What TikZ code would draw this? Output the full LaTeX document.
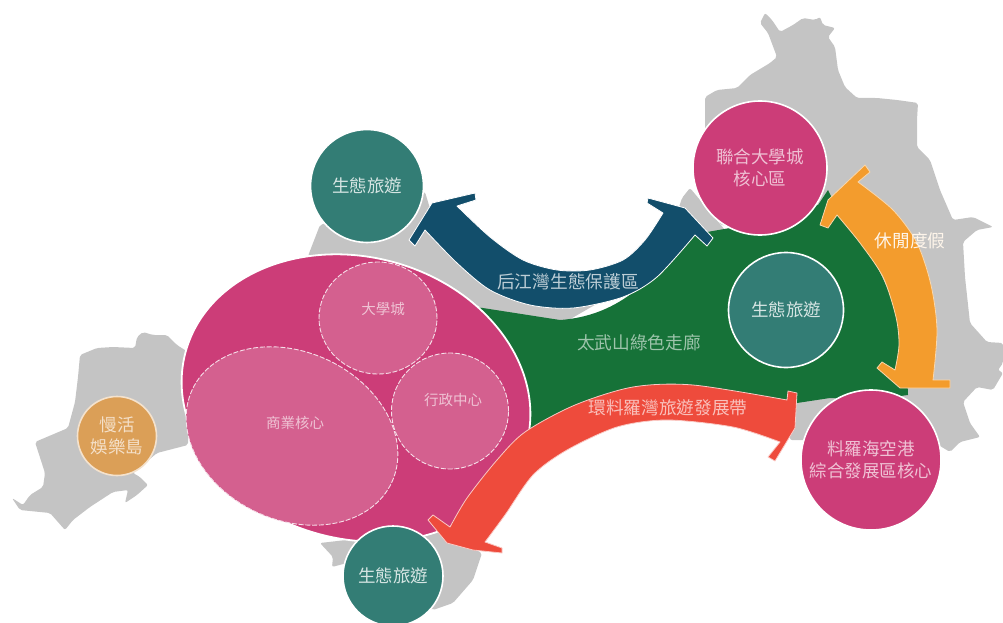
\documentclass[tikz,border=0pt]{standalone}
\usepackage{fontspec}
\setmainfont{Noto Sans CJK TC}
\usetikzlibrary{shapes.geometric}
\definecolor{landgray}{HTML}{C4C4C4}
\definecolor{hillgreen}{HTML}{167238}
\definecolor{corepink}{HTML}{CC3D78}
\definecolor{zonepink}{HTML}{D4608F}
\definecolor{ecoteal}{HTML}{337D75}
\definecolor{islandtan}{HTML}{DB9F57}
\definecolor{bayblue}{HTML}{124E6B}
\definecolor{leisureorange}{HTML}{F39C2D}
\definecolor{ringred}{HTML}{EE4B3C}
\tikzset{
	land/.style={fill=landgray, rounded corners=2pt},
	hub/.style={circle, draw=white, line width=1.6pt, inner sep=0pt, align=center, font=\fontsize{17.5}{21.5}\selectfont},
	ecohub/.style={hub, fill=ecoteal, text=white!80!ecoteal, minimum size=#1},
	corehub/.style={hub, fill=corepink, text=white!68!corepink, minimum size=#1},
	zone/.style={ellipse, draw=white!80!zonepink, fill=zonepink, dash pattern=on 5pt off 1.8pt, line width=0.9pt, inner sep=0pt},
	zonetext/.style={text=white!62!zonepink, font=\fontsize{14.5}{17}\selectfont},
	bandtext/.style={font=\fontsize{17.7}{21}\selectfont},
}
\begin{document}
\begin{tikzpicture}[x=1pt,y=-1pt]
	\useasboundingbox (0,0) rectangle (1003,623);
	%
	% land
	\fill[land] (188,352) -- (177,345) -- (167,335) -- (153,335) -- (143,332) -- (137,337) -- (135,348) -- (113,347) -- (97,348) -- (80,355) -- (78,377) -- (75,402) -- (68,428) -- (35,442) -- (45,473) -- (43,487) -- (30,495) -- (23,505) -- (12,498) -- (20,510) -- (50,513) -- (65,530) -- (73,520) -- (90,507) -- (113,492) -- (128,490) -- (125,503) -- (137,495) -- (148,485) -- (140,477) -- (133,473) -- (157,453) -- (188,445) -- cycle;
	\fill[land] (320,543) -- (333,557) -- (332,567) -- (347,563) -- (433,610) -- (453,603) -- (473,580) -- (482,553) -- (433,530) -- cycle;
	\fill[land] (308,256) -- (320,225) -- (425,192) -- (435,225) -- (520,285) -- (600,300) -- (660,265) -- (682,198) -- (690,188) -- (725,230) -- (560,325) -- (495,315) -- (400,265) -- cycle;
	\fill[land] (705,97) -- (717,90) -- (737,88) -- (750,75) -- (770,63) -- (777,57) -- (768,33) -- (760,23) -- (765,13) -- (772,20) -- (780,32) -- (793,25) -- (803,18) -- (815,20) -- (820,17) -- (823,25) -- (835,28) -- (828,37) -- (835,47) -- (838,70) -- (845,87) -- (857,98) -- (877,98) -- (897,100) -- (918,103) -- (917,120) -- (917,147) -- (930,160) -- (940,190) -- (953,220) -- (973,217) -- (993,227) -- (977,230) -- (963,242) -- (965,277) -- (970,323) -- (987,342) -- (1003,343) -- (1003,363) -- (998,370) -- (1003,373) -- (993,390) -- (977,387) -- (963,402) -- (970,423) -- (980,437) -- (960,442) -- (950,452) -- (930,440) -- (790,440) -- (790,390) -- (900,240) -- (720,225) -- (705,130) -- cycle;
	%
	% corridor
	\fill[hillgreen] (470,306) -- (560,320) .. controls (630,315) and (660,265) .. (690,235) -- (730,228) -- (818,205) -- (828,190) -- (840,215) .. controls (880,260) and (905,310) .. (908,395) -- (870,400) -- (830,398) -- (797,403) -- (700,395) -- (620,398) -- (525,435) -- (440,420) -- cycle;
	%
	% west core
	\node[ellipse, fill=corepink, draw=white, line width=1.8pt, inner sep=0pt, minimum width=353pt, minimum height=282pt, rotate=-15] (core) at (356,398) {};
	\node[zone, minimum width=118pt, minimum height=112pt] (campus) at (378,318) {};
	\node[zone, minimum width=117pt, minimum height=116pt] (admin) at (450,411) {};
	\node[zone, minimum width=220pt, minimum height=168pt, rotate=-25] (commerce) at (292,436) {};
	\node[zonetext] (campustext) at (383,309) {大學城};
	\node[zonetext] (admintext) at (453,400) {行政中心};
	\node[zonetext] (commercetext) at (295,423) {商業核心};
	%
	% arrows
	\filldraw[fill=bayblue, draw=white, line width=0.8pt, line join=round] (475,193) -- (476,200) -- (457,206) -- plot[smooth] coordinates {(457,206) (490,237) (523,260) (557,270) (590,270) (623,260) (645,240) (663,213)} -- (647,203) -- (648,198) -- (685,208) -- (713,238) -- (707,246) -- (695,235) -- plot[smooth] coordinates {(695,235) (657,277) (623,297) (573,308) (530,305) (490,290) (457,263) (425,230)} -- (415,246) -- (409,240) -- (432,203) -- cycle;
	\filldraw[fill=leisureorange, draw=white!60!leisureorange, line width=0.8pt, line join=round] (865,165) -- (870,172) -- (858,182) -- plot[smooth] coordinates {(858,182) (893,210) (917,243) (931,285) (937,330) (933,380)} -- (950,380) -- (950,388) -- (900,388) -- (877,368) -- (882,362) -- (895,370) -- plot[smooth] coordinates {(895,370) (899,345) (896,317) (883,277) (860,243) (837,215)} -- (828,228) -- (820,225) -- (828,200) -- cycle;
	\filldraw[fill=ringred, draw=white!70!ringred, line width=0.8pt, line join=round] (788,391) -- (797,393) -- (795,428) -- (775,461) -- (768,457) -- (780,442) -- plot[smooth] coordinates {(780,442) (733,427) (667,420) (617,427) (567,450) (533,475) (505,515) (485,542)} -- (502,548) -- (502,553) -- (473,550) -- (447,543) -- (428,520) -- (433,515) -- (450,527) -- plot[smooth] coordinates {(450,527) (467,498) (497,460) (525,432) (575,405) (633,387) (693,385) (787,400)} -- cycle;
	\node[bandtext, text=white!72!bayblue] (baytext) at (568,282) {后江灣生態保護區};
	\node[bandtext, text=white!58!hillgreen] (hilltext) at (639,343) {太武山綠色走廊};
	\node[bandtext, text=white!65!ringred] (ringtext) at (668,408) {環料羅灣旅遊發展帶};
	\node[bandtext, text=white!90!leisureorange] (leisuretext) at (910,241) {休閒度假};
	%
	% hubs
	\node[ecohub=113pt] (ecowest) at (367,186) {生態旅遊};
	\node[ecohub=115pt] (ecomid) at (786,310) {生態旅遊};
	\node[ecohub=100pt] (ecosouth) at (393,576) {生態旅遊};
	\node[corehub=134pt] (uninorth) at (760,168) {聯合大學城\\核心區};
	\node[corehub=140pt] (portsouth) at (871,460) {料羅海空港\\綜合發展區核心};
	\node[hub, fill=islandtan, draw=white!70!islandtan, text=white!68!islandtan, minimum size=79pt] (isle) at (117,436) {慢活\\娛樂島};
	%
\end{tikzpicture}
\end{document}
